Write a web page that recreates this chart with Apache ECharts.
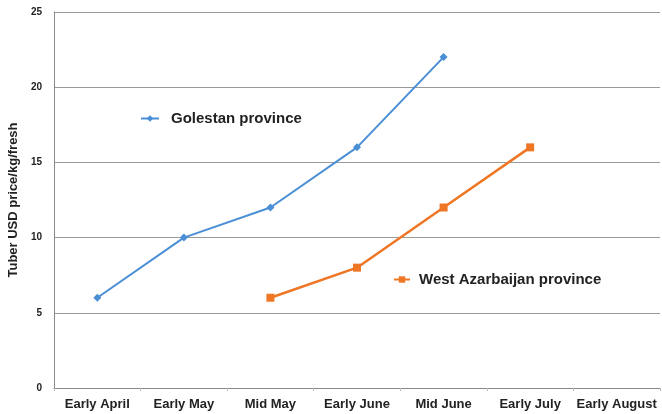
<!DOCTYPE html>
<html>
<head>
<meta charset="utf-8">
<script src="https://cdn.jsdelivr.net/npm/echarts@6/dist/echarts.min.js"></script>
<style>
  html, body { margin: 0; padding: 0; background: #fff; }
  #main { width: 662px; height: 414px; }
</style>
</head>
<body>
<div id="main"></div>
<script>
// 类目
var periods = ['Early April', 'Early May', 'Mid May', 'Early June', 'Mid June', 'Early July', 'Early August'];
// 数据
var golestan = [6, 10, 12, 16, 22, null, null];
var westAzarbaijan = [null, null, 6, 8, 12, 16, null];
var yTicks = [0, 5, 10, 15, 20, 25];

var blue = '#4a8fd6';
var orange = '#ef7625';

var chart = echarts.init(document.getElementById('main'));
var option = {
    animation: false,
    backgroundColor: '#fff',
    textStyle: { fontFamily: 'Liberation Sans, Arial, sans-serif' },
    grid: { left: 54, right: 2, top: 12, bottom: 26, outerBoundsMode: 'none', containLabel: false },
    legend: [{
        data: ['Golestan province'],
        left: 140,
        top: 111,
        padding: 0,
        itemWidth: 18,
        itemHeight: 8,
        textStyle: { fontSize: 15, fontWeight: 'bold', color: '#222', padding: [0, 0, 0, 7] }
    }, {
        data: ['West Azarbaijan province'],
        left: 393,
        top: 272,
        padding: 0,
        itemWidth: 16,
        itemHeight: 8,
        textStyle: { fontSize: 15, fontWeight: 'bold', color: '#222', padding: [0, 0, 0, 4] }
    }],
    xAxis: {
        type: 'category',
        data: periods,
        boundaryGap: true,
        axisLine: { lineStyle: { color: '#888', width: 1 } },
        axisTick: { show: true, length: 3, lineStyle: { color: '#bbb' } },
        axisLabel: { color: '#222', fontSize: 13, fontWeight: 'bold', margin: 10, interval: 0 }
    },
    yAxis: {
        type: 'value',
        min: yTicks[0],
        max: yTicks[yTicks.length - 1],
        interval: 5,
        name: 'Tuber USD price/kg/fresh',
        nameLocation: 'middle',
        nameGap: 31,
        nameTextStyle: { color: '#222', fontSize: 13, fontWeight: 'bold' },
        axisLine: { show: true, lineStyle: { color: '#888', width: 1 } },
        axisTick: { show: false },
        axisLabel: { color: '#222', fontSize: 10, fontWeight: 'bold', margin: 12 },
        splitLine: { lineStyle: { color: '#999', width: 1 } }
    },
    series: [{
        name: 'Golestan province',
        type: 'line',
        data: golestan,
        color: blue,
        symbol: 'diamond',
        symbolSize: 8,
        lineStyle: { width: 2, color: blue },
        itemStyle: { color: blue }
    }, {
        name: 'West Azarbaijan province',
        type: 'line',
        data: westAzarbaijan,
        color: orange,
        symbol: 'rect',
        symbolSize: 8,
        lineStyle: { width: 2.5, color: orange },
        itemStyle: { color: orange }
    }]
};
chart.setOption(option);
</script>
</body>
</html>
